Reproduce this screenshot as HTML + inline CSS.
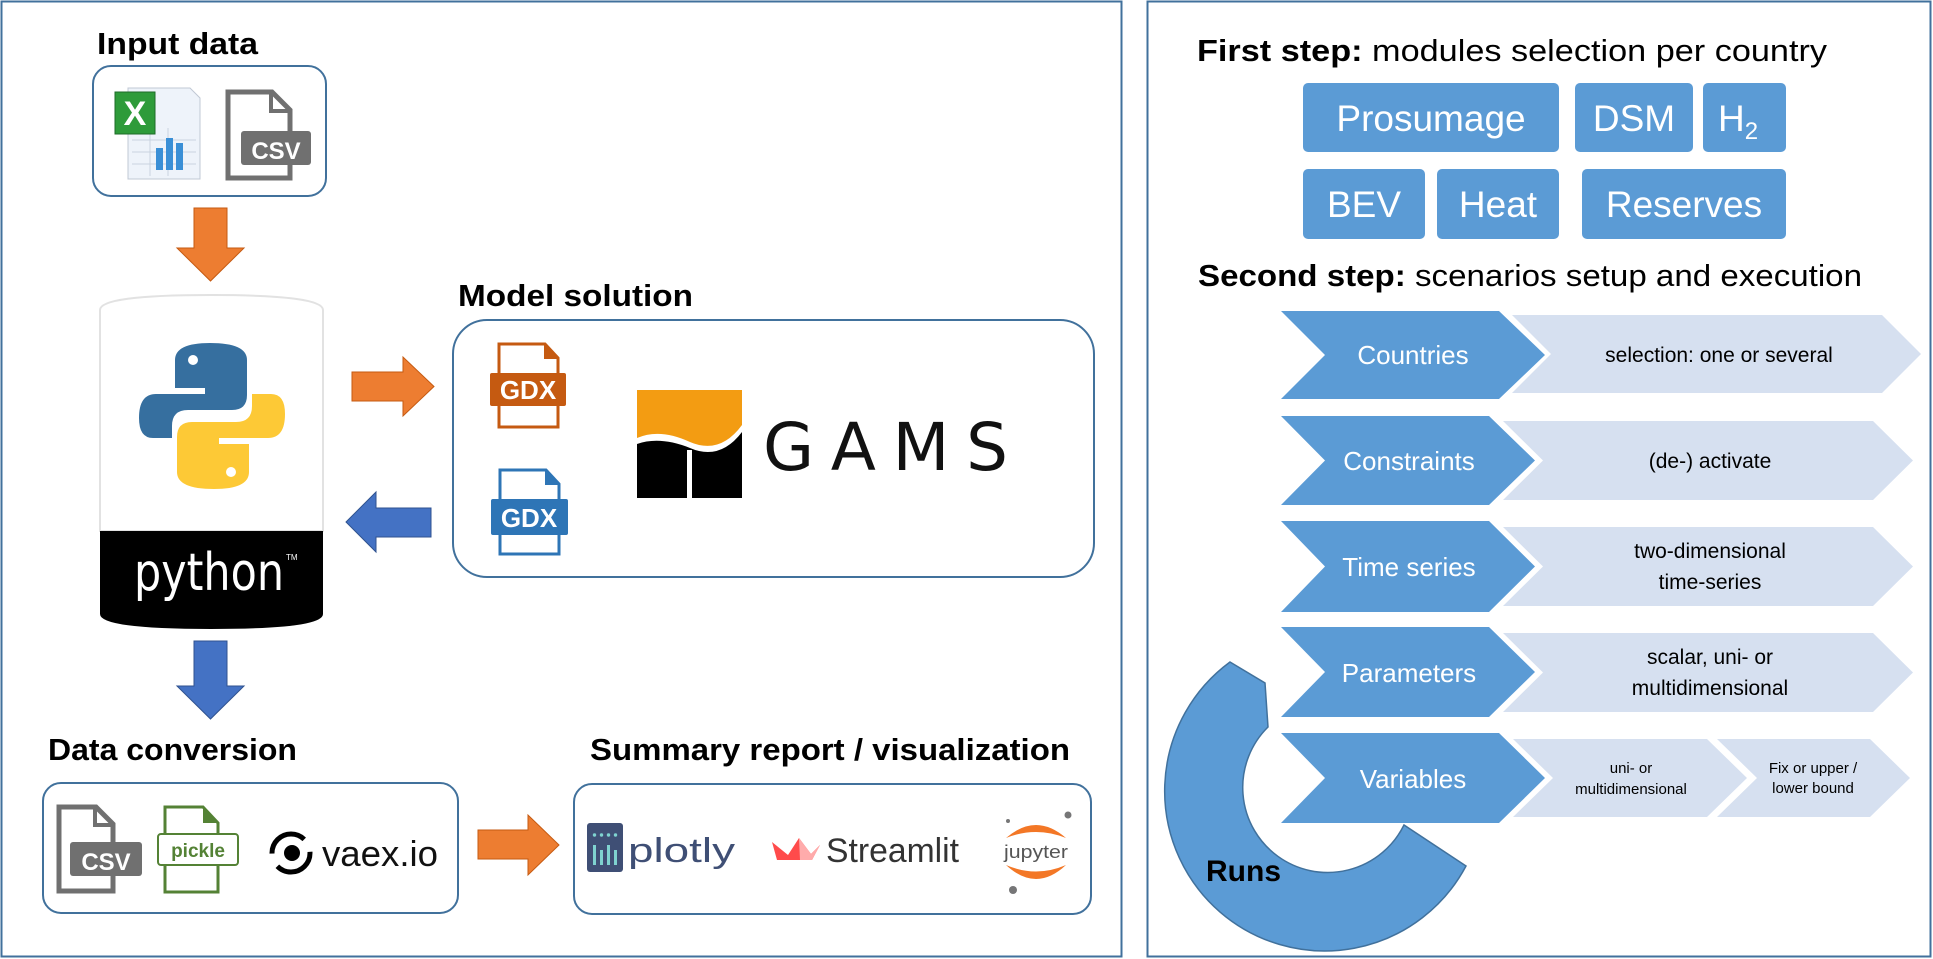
<!DOCTYPE html>
<html><head><meta charset="utf-8"><style>
html,body{margin:0;padding:0;background:#fff;width:1933px;height:959px;overflow:hidden}
svg{display:block}
.h{font-family:"Liberation Sans Narrow","Liberation Sans",sans-serif;font-weight:bold;fill:#000}
.s{font-family:"Liberation Sans",sans-serif}
</style></head><body>
<svg width="1933" height="959" viewBox="0 0 1933 959" xmlns="http://www.w3.org/2000/svg">
<!-- panels -->
<rect x="1.5" y="1.5" width="1120" height="955" fill="#fff" stroke="#41719c" stroke-width="2"/>
<rect x="1147.5" y="1.5" width="783" height="955" fill="#fff" stroke="#41719c" stroke-width="2"/>

<!-- LEFT PANEL -->
<text class="h" x="97" y="54" font-size="31" textLength="161" lengthAdjust="spacingAndGlyphs">Input data</text>
<rect x="93" y="66" width="233" height="130" rx="18" fill="#fff" stroke="#41719c" stroke-width="2"/>
<!-- excel icon -->
<path d="M128 88 H190 L200 98 V179 H128 Z" fill="#eef3fa" stroke="#c0c8d4"/>
<g stroke="#c9d3e0" stroke-width="1"><line x1="132" y1="140" x2="196" y2="140"/><line x1="132" y1="152" x2="196" y2="152"/><line x1="132" y1="164" x2="196" y2="164"/><line x1="150" y1="128" x2="150" y2="176"/><line x1="168" y1="128" x2="168" y2="176"/></g>
<rect x="156" y="148" width="7" height="22" fill="#3a8fd6"/><rect x="166" y="138" width="7" height="32" fill="#3a8fd6"/><rect x="176" y="143" width="7" height="27" fill="#3a8fd6"/>
<rect x="115" y="92" width="40" height="42" fill="#2e9b3a" stroke="#1e6b28"/>
<text x="135" y="125" font-family="Liberation Sans,sans-serif" font-weight="bold" font-size="34" fill="#fff" text-anchor="middle">X</text>
<!-- csv icon -->
<path d="M228 92 H272 L290 110 V178 H228 Z" fill="#fff" stroke="#707070" stroke-width="5"/>
<path d="M271 92 V111 H290" fill="none" stroke="#707070" stroke-width="4"/>
<rect x="241" y="131" width="70" height="34" rx="3" fill="#707070"/>
<text x="276" y="159" font-family="Liberation Sans,sans-serif" font-weight="bold" font-size="24" fill="#fff" text-anchor="middle">CSV</text>

<!-- orange down arrow -->
<path d="M194 208 H227 V248 H244 L210.5 281 L177 248 H194 Z" fill="#ed7d31" stroke="#c55a11" stroke-width="1"/>

<!-- python cylinder -->
<path d="M100 310 Q100 295 211 295 Q323 295 323 310 V531 H100 Z" fill="#fff" stroke="#e2e2e2" stroke-width="2"/>
<path d="M100 531 H323 V614 Q323 629 211 629 Q100 629 100 614 Z" fill="#000"/>
<text x="134" y="590" font-family="DejaVu Sans,Liberation Sans,sans-serif" font-size="52" fill="#fff" textLength="150" lengthAdjust="spacingAndGlyphs">python</text>
<text x="286" y="560" font-family="Liberation Sans,sans-serif" font-size="8" fill="#fff">TM</text>
<!-- python logo -->
<path d="M210 343 Q247 343 247 360 V395 Q247 410 232 410 H188 Q172 410 172 426 V438 H153 Q139 438 139 418 Q139 394 156 394 H205 V388 H175 V360 Q175 343 210 343 Z" fill="#366f9f"/>
<circle cx="193" cy="360" r="5" fill="#fff"/>
<path d="M214 489 Q177 489 177 472 V437 Q177 422 192 422 H236 Q252 422 252 406 V394 H271 Q285 394 285 414 Q285 438 268 438 H219 V444 H249 V472 Q249 489 214 489 Z" fill="#fdc936"/>
<circle cx="231" cy="472" r="5" fill="#fff"/>

<!-- Model solution -->
<text class="h" x="458" y="306" font-size="31" textLength="235" lengthAdjust="spacingAndGlyphs">Model solution</text>
<rect x="453" y="320" width="641" height="257" rx="34" fill="#fff" stroke="#41719c" stroke-width="2"/>
<path d="M352 372 H403 V357 L434 386.5 L403 416 V401 H352 Z" fill="#ed7d31" stroke="#c55a11" stroke-width="1"/>
<path d="M431 508 H376 V492 L346 522 L376 552 V537 H431 Z" fill="#4472c4" stroke="#2f528f" stroke-width="1"/>
<!-- GDX orange -->
<path d="M499 344 H545 L558 358 V427 H499 Z" fill="#fff" stroke="#c55a11" stroke-width="3"/>
<path d="M545 344 V358 H558" fill="#c55a11" stroke="#c55a11" stroke-width="2"/>
<rect x="490" y="373" width="76" height="33" rx="2" fill="#c55a11"/>
<text x="528" y="399" font-family="Liberation Sans Narrow,Liberation Sans,sans-serif" font-weight="bold" font-size="26" fill="#fff" text-anchor="middle">GDX</text>
<!-- GDX blue -->
<path d="M500 470 H546 L559 484 V554 H500 Z" fill="#fff" stroke="#2e75b6" stroke-width="3"/>
<path d="M546 470 V484 H559" fill="#2e75b6" stroke="#2e75b6" stroke-width="2"/>
<rect x="491" y="499" width="77" height="36" rx="2" fill="#2e75b6"/>
<text x="529" y="527" font-family="Liberation Sans Narrow,Liberation Sans,sans-serif" font-weight="bold" font-size="26" fill="#fff" text-anchor="middle">GDX</text>
<!-- GAMS logo -->
<rect x="637" y="390" width="105" height="108" fill="#f39c12"/>
<path d="M637 438 Q660 428 690 442 Q720 455 742 425 V498 H637 Z" fill="#fff"/>
<path d="M637 444 Q660 436 690 448 Q720 461 742 432 V498 H637 Z" fill="#000"/>
<rect x="687" y="450" width="5" height="48" fill="#fff"/>
<text x="763" y="470" font-family="DejaVu Sans,Liberation Sans,sans-serif" font-size="66" fill="#111" textLength="245" lengthAdjust="spacing">GAMS</text>

<!-- blue down arrow -->
<path d="M194 641 H227 V686 H244 L210.5 719 L177 686 H194 Z" fill="#4472c4" stroke="#2f528f" stroke-width="1"/>

<!-- Data conversion -->
<text class="h" x="48" y="760" font-size="31" textLength="249" lengthAdjust="spacingAndGlyphs">Data conversion</text>
<rect x="43" y="783" width="415" height="130" rx="18" fill="#fff" stroke="#41719c" stroke-width="2"/>
<path d="M59 807 H96 L113 824 V891 H59 Z" fill="#fff" stroke="#707070" stroke-width="5"/>
<path d="M95 807 V825 H113" fill="none" stroke="#707070" stroke-width="4"/>
<rect x="70" y="842" width="72" height="34" rx="3" fill="#707070"/>
<text x="106" y="870" font-family="Liberation Sans,sans-serif" font-weight="bold" font-size="24" fill="#fff" text-anchor="middle">CSV</text>
<path d="M165 807 H203 L218 823 V892 H165 Z" fill="#fff" stroke="#548235" stroke-width="3"/>
<path d="M203 807 V823 H218 Z" fill="#548235"/>
<rect x="158" y="834" width="80" height="31" rx="3" fill="#fff" stroke="#548235" stroke-width="2"/>
<text x="198" y="857" font-family="Liberation Sans Narrow,Liberation Sans,sans-serif" font-weight="bold" font-size="19" fill="#548235" text-anchor="middle">pickle</text>
<circle cx="291" cy="853" r="19" fill="none" stroke="#000" stroke-width="5" stroke-dasharray="45 14"/>
<circle cx="292" cy="853" r="8" fill="#000"/>
<text x="322" y="866" font-family="Liberation Sans,sans-serif" font-size="36" fill="#111" textLength="116" lengthAdjust="spacingAndGlyphs">vaex.io</text>

<path d="M478 830 H528 V815 L559 845 L528 875 V859 H478 Z" fill="#ed7d31" stroke="#c55a11" stroke-width="1"/>

<!-- Summary -->
<text class="h" x="590" y="760" font-size="31" textLength="480" lengthAdjust="spacingAndGlyphs">Summary report / visualization</text>
<rect x="574" y="784" width="517" height="130" rx="18" fill="#fff" stroke="#41719c" stroke-width="2"/>
<rect x="587" y="823" width="36" height="49" rx="3" fill="#3f4f75"/>
<g fill="#7fd3d0"><rect x="593" y="845" width="3" height="20"/><rect x="600" y="850" width="3" height="15"/><rect x="607" y="845" width="3" height="20"/><rect x="614" y="850" width="3" height="15"/>
<circle cx="594.5" cy="835" r="1.7"/><circle cx="601.5" cy="835" r="1.7"/><circle cx="608.5" cy="835" r="1.7"/><circle cx="615.5" cy="835" r="1.7"/></g>
<text x="628" y="862" font-family="Liberation Sans,sans-serif" font-size="34" fill="#3f4f75" textLength="107" lengthAdjust="spacingAndGlyphs">plotly</text>
<path d="M772 842 L788 855 L799 838 L811 854 L820 845 L812 860 H777 Z" fill="#ff4b4b"/>
<path d="M799 838 L811 854 L820 845 L812 860 H800 Z" fill="#ffabab"/>
<text x="826" y="862" font-family="Liberation Sans,sans-serif" font-size="34" fill="#333" textLength="133" lengthAdjust="spacingAndGlyphs">Streamlit</text>
<path d="M1006 838 Q1036 812 1066 838 Q1036 826 1006 838 Z" fill="#f37726"/>
<path d="M1006 865 Q1036 893 1066 865 Q1036 878 1006 865 Z" fill="#f37726"/>
<circle cx="1068" cy="815" r="3.5" fill="#767677"/><circle cx="1013" cy="890" r="4" fill="#767677"/><circle cx="1008" cy="821" r="2" fill="#767677"/>
<text x="1036" y="858" font-family="Liberation Sans,sans-serif" font-size="18" fill="#555" text-anchor="middle" textLength="64" lengthAdjust="spacingAndGlyphs">jupyter</text>

<!-- RIGHT PANEL -->
<text class="s" x="1197" y="61" font-size="31" textLength="630" lengthAdjust="spacingAndGlyphs"><tspan font-weight="bold">First  step:</tspan> modules selection per country</text>
<g fill="#5b9bd5">
<rect x="1303" y="83" width="256" height="69" rx="5"/>
<rect x="1575" y="83" width="118" height="69" rx="5"/>
<rect x="1703" y="83" width="83" height="69" rx="5"/>
<rect x="1303" y="169" width="122" height="70" rx="5"/>
<rect x="1437" y="169" width="122" height="70" rx="5"/>
<rect x="1582" y="169" width="204" height="70" rx="5"/>
</g>
<g class="s" fill="#fff" font-size="37" text-anchor="middle">
<text x="1431" y="131">Prosumage</text>
<text x="1634" y="131">DSM</text>
<text x="1738" y="131">H<tspan font-size="24" dy="8">2</tspan></text>
<text x="1364" y="217">BEV</text>
<text x="1498" y="217">Heat</text>
<text x="1684" y="217">Reserves</text>
</g>
<text class="s" x="1198" y="286" font-size="31" textLength="664" lengthAdjust="spacingAndGlyphs"><tspan font-weight="bold">Second step:</tspan> scenarios setup and execution</text>

<!-- Runs ring -->
<path d="M1230 662 A160 160 0 1 0 1466 866 L1404 825 A85 85 0 1 1 1268 727 L1265 683 Z" fill="#5b9bd5" stroke="#41719c" stroke-width="1.5"/>
<text class="s" x="1206" y="881" font-size="30" font-weight="bold" fill="#000">Runs</text>

<!-- light chevrons -->
<g fill="#d6e0f0">
<path d="M1512 315 H1882 L1921 354 L1882 393 H1512 L1551 354 Z"/>
<path d="M1503 421 H1873 L1913 460.5 L1873 500 H1503 L1543 460.5 Z"/>
<path d="M1503 527 H1873 L1913 566.5 L1873 606 H1503 L1543 566.5 Z"/>
<path d="M1503 633 H1873 L1913 672.5 L1873 712 H1503 L1543 672.5 Z"/>
<path d="M1513 739 H1707 L1747 778 L1707 817 H1513 L1553 778 Z"/>
<path d="M1717 739 H1870 L1910 778 L1870 817 H1717 L1757 778 Z"/>
</g>
<!-- dark chevrons -->
<g fill="#5b9bd5">
<path d="M1281 311 H1499 L1545 355 L1499 399 H1281 L1325 355 Z"/>
<path d="M1281 416 H1489 L1535 460.5 L1489 505 H1281 L1325 460.5 Z"/>
<path d="M1281 521 H1489 L1535 566.5 L1489 612 H1281 L1325 566.5 Z"/>
<path d="M1281 627 H1489 L1535 672 L1489 717 H1281 L1325 672 Z"/>
<path d="M1281 733 H1499 L1545 778 L1499 823 H1281 L1325 778 Z"/>
</g>
<g class="s" fill="#fff" font-size="26" text-anchor="middle">
<text x="1413" y="364">Countries</text>
<text x="1409" y="470">Constraints</text>
<text x="1409" y="576">Time series</text>
<text x="1409" y="682">Parameters</text>
<text x="1413" y="788">Variables</text>
</g>
<g class="s" fill="#000" font-size="21" text-anchor="middle">
<text x="1719" y="362">selection: one or several</text>
<text x="1710" y="468">(de-) activate</text>
<text x="1710" y="558">two-dimensional</text>
<text x="1710" y="589">time-series</text>
<text x="1710" y="664">scalar, uni- or</text>
<text x="1710" y="695">multidimensional</text>
</g>
<g class="s" fill="#000" font-size="15" text-anchor="middle">
<text x="1631" y="773">uni- or</text>
<text x="1631" y="794">multidimensional</text>
<text x="1813" y="773">Fix or upper /</text>
<text x="1813" y="793">lower bound</text>
</g>
</svg>
</body></html>
